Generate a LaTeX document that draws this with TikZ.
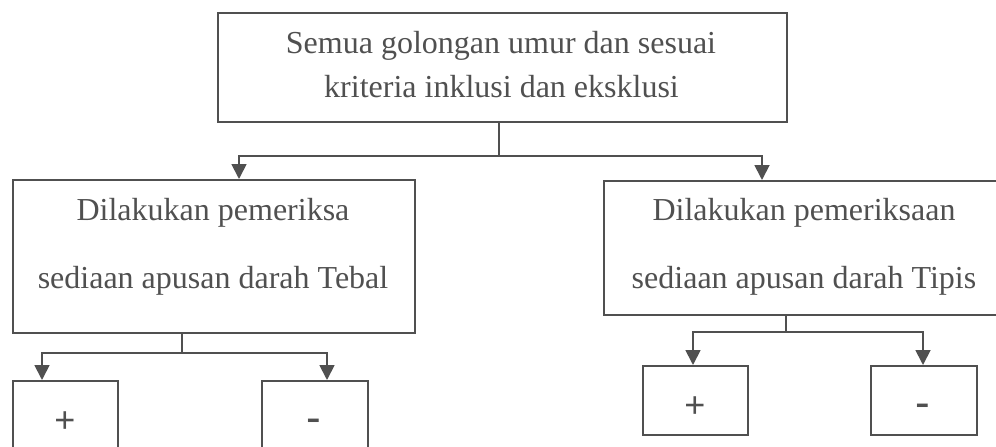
\documentclass[tikz,border=0pt]{standalone}
\usepackage{fontspec}
\setmainfont{Liberation Serif}
\newfontfamily\signfont{Liberation Sans}
\usetikzlibrary{arrows.meta}
\definecolor{ink}{HTML}{505050}
\tikzset{
  box/.style={draw=ink, line width=1.8pt, rectangle, inner sep=0pt, anchor=north west},
  lbl/.style={text=ink, anchor=base, inner sep=0pt, font=\fontsize{32}{36}\selectfont},
  plussign/.style={text=ink, anchor=base, inner sep=0pt, font=\signfont\fontsize{36}{40}\selectfont},
  minussign/.style={text=ink, anchor=base, inner sep=0pt, font=\signfont\fontsize{44}{48}\selectfont},
  wire/.style={draw=ink, line width=1.8pt},
  arr/.style={wire, -{Triangle[length=15pt,width=15pt]}},
}
\begin{document}
\begin{tikzpicture}[x=1pt,y=-1pt]
\useasboundingbox (0,0) rectangle (996,447);
% boxes
\node[box, minimum width=569pt, minimum height=109pt] (top) at (217,12) {};
\node[box, minimum width=402pt, minimum height=153pt] (L) at (12,179) {};
\node[box, minimum width=402pt, minimum height=134pt] (R) at (603,180) {};
\node[box, minimum width=105pt, minimum height=90pt] (Lp) at (12,380) {};
\node[box, minimum width=106pt, minimum height=90pt] (Lm) at (261,380) {};
\node[box, minimum width=105pt, minimum height=69pt] (Rp) at (642,365) {};
\node[box, minimum width=106pt, minimum height=69pt] (Rm) at (870,365) {};
% texts
\node[lbl] (t1) at (501,53) {Semua golongan umur dan sesuai};
\node[lbl] (t2) at (501.5,97) {kriteria inklusi dan eksklusi};
\node[lbl] (l1) at (213,220) {Dilakukan pemeriksa};
\node[lbl] (l2) at (213,288) {sediaan apusan darah Tebal};
\node[lbl] (r1) at (804,220) {Dilakukan pemeriksaan};
\node[lbl] (r2) at (804,288) {sediaan apusan darah Tipis};
\node[plussign] (sp1) at (65,432.4) {+};
\node[minussign] (sm1) at (314,432.5) {-};
\node[plussign] (sp2) at (695,417.6) {+};
\node[minussign] (sm2) at (923,417.8) {-};
% connectors
\coordinate (j0) at (499,156);
\coordinate (jL) at (182,353);
\coordinate (jR) at (786,332);
\draw[wire] (top.south -| j0) -- (j0);
\draw[arr] (j0) -| (L.north -| 239,0);
\draw[arr] (j0) -| (R.north -| 762,0);
\draw[wire] (L.south -| jL) -- (jL);
\draw[arr] (jL) -| (Lp.north -| 42,0);
\draw[arr] (jL) -| (Lm.north -| 327,0);
\draw[wire] (R.south -| jR) -- (jR);
\draw[arr] (jR) -| (Rp.north -| 693,0);
\draw[arr] (jR) -| (Rm.north -| 923,0);
\end{tikzpicture}
\end{document}
